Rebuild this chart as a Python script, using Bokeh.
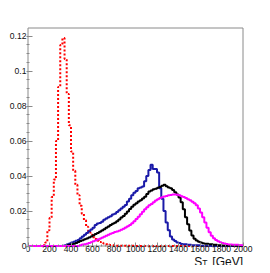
import numpy as np
from bokeh.plotting import figure
from bokeh.models import FixedTicker, CustomJSTickFormatter, Label
from bokeh.embed import file_html
from bokeh.resources import INLINE

# ---- data: 100 bins of 20 GeV from 0 to 2000 (unit-normalised S_T distributions)
bin_width = 20
n_bins = 100
edges = [bin_width * i for i in range(n_bins + 1)]

red_vals = [
    0, 0, 0, 0, 0, 0, 0, 0.0005, 0.002, 0.009,
    0.016, 0.028, 0.038, 0.060, 0.091, 0.115, 0.119, 0.107, 0.087, 0.069,
    0.054, 0.043, 0.035, 0.029, 0.023, 0.0185, 0.0147, 0.011, 0.008, 0.0065,
    0.005, 0.004, 0.003, 0.0023, 0.0018, 0.0014, 0.001, 0.0008, 0.0006, 0.0005,
    0.0003, 0.0002, 0.0002, 0.0002, 0.0002, 0.0001, 0.0001, 0.0001, 0.0001, 0.0001,
    0, 0, 0, 0, 0, 0, 0, 0, 0, 0,
    0, 0, 0, 0, 0, 0, 0, 0, 0, 0,
    0, 0, 0, 0, 0, 0, 0, 0, 0, 0,
    0, 0, 0, 0, 0, 0, 0, 0, 0, 0,
    0, 0, 0, 0, 0, 0, 0, 0, 0, 0,
]

blue_vals = [
    0, 0, 0, 0, 0, 0, 0, 0, 0, 0,
    0, 0, 0, 0, 0, 0, 0.0002, 0.0005, 0.001, 0.0015,
    0.002, 0.0025, 0.003, 0.0035, 0.0045, 0.0055, 0.0065, 0.0075, 0.0085, 0.0095,
    0.0105, 0.012, 0.0128, 0.0132, 0.0138, 0.015, 0.0157, 0.0165, 0.017, 0.018,
    0.0185, 0.0195, 0.0205, 0.0215, 0.0225, 0.0235, 0.0255, 0.027, 0.029, 0.0305,
    0.0315, 0.033, 0.0335, 0.034, 0.037, 0.040, 0.0435, 0.0465, 0.044, 0.044,
    0.042, 0.033, 0.027, 0.020, 0.0135, 0.009, 0.0055, 0.0037, 0.0028, 0.002,
    0.0017, 0.0012, 0.001, 0.001, 0.0007, 0.0007, 0.0004, 0.0004, 0.0004, 0.0004,
    0.0002, 0.0002, 0.0002, 0.0002, 0.0002, 0, 0, 0, 0, 0,
    0, 0, 0, 0, 0, 0, 0, 0, 0, 0,
]

black_vals = [
    0, 0, 0, 0, 0, 0, 0, 0, 0, 0,
    0, 0, 0, 0, 0, 0, 0, 0, 0.0004, 0.0007,
    0.001, 0.0013, 0.0017, 0.0023, 0.0028, 0.0033, 0.0038, 0.0043, 0.0049, 0.0055,
    0.0062, 0.0068, 0.0075, 0.0081, 0.0088, 0.0096, 0.0104, 0.0112, 0.012, 0.0127,
    0.0133, 0.0141, 0.0152, 0.0163, 0.0172, 0.0185, 0.0198, 0.0212, 0.0225, 0.0236,
    0.0245, 0.0255, 0.0262, 0.0272, 0.0282, 0.0298, 0.0312, 0.0318, 0.0325, 0.0328,
    0.0333, 0.0338, 0.0345, 0.035, 0.0342, 0.0335, 0.033, 0.032, 0.0308, 0.0295,
    0.0278, 0.025, 0.021, 0.0165, 0.0125, 0.0088, 0.006, 0.0042, 0.0032, 0.0025,
    0.002, 0.0016, 0.0013, 0.0013, 0.001, 0.001, 0.0007, 0.0007, 0.0005, 0.0005,
    0.0003, 0.0003, 0.0003, 0.0003, 0.0003, 0.0001, 0.0001, 0.0001, 0.0001, 0.0001,
]

magenta_vals = [
    0, 0, 0, 0, 0, 0, 0, 0, 0, 0,
    0, 0, 0, 0, 0, 0, 0, 0, 0, 0,
    0, 0, 0, 0, 0.0005, 0.0008, 0.001, 0.0013, 0.0017, 0.0022,
    0.0027, 0.0032, 0.0037, 0.0042, 0.0047, 0.0053, 0.0058, 0.0064, 0.007, 0.0075,
    0.008, 0.0083, 0.0087, 0.0093, 0.0099, 0.0106, 0.0113, 0.012, 0.013, 0.0142,
    0.0155, 0.0168, 0.0182, 0.0196, 0.021, 0.0222, 0.0233, 0.024, 0.025, 0.026,
    0.0268, 0.0274, 0.0279, 0.0283, 0.0286, 0.029, 0.0292, 0.0294, 0.0295, 0.0293,
    0.029, 0.0285, 0.028, 0.0274, 0.0268, 0.0262, 0.0253, 0.0245, 0.0233, 0.0215,
    0.0192, 0.0165, 0.0135, 0.0105, 0.0078, 0.0058, 0.0044, 0.0034, 0.0027, 0.0021,
    0.0017, 0.0014, 0.0012, 0.0009, 0.0009, 0.0007, 0.0007, 0.0007, 0.0005, 0.0005,
]

x_min, x_max = 0, 2000
y_min, y_max = 0, 0.1247
x_tick_step = 200
y_tick_step = 0.02
y_major_ticks = [0, 0.02, 0.04, 0.06, 0.08, 0.1, 0.12]
x_title_main = "S"
x_title_sub = "T"
x_title_unit = "[GeV]"

FONT = "Liberation Sans"
AXIS_GRAY = "#8a8a8a"

# ---- layout (canvas pixels). The frame is extended right and below y=0 so the
# x tick labels and the axis title live inside it; the box is drawn explicitly.
W, H = 262, 265
border_l, border_t = 26, 26
box_left_px, box_right_px = 27.5, 242.5     # canvas x of x_min / x_max
box_top_px, zero_px = 27.5, 245.5           # canvas y of y_max / y=0
x_px = (box_right_px - box_left_px) / (x_max - x_min)
y_px = (zero_px - box_top_px) / (y_max - y_min)
x_start = x_min - (box_left_px - border_l) / x_px
x_end = x_max + (W - box_right_px) / x_px
y_end = y_max + (box_top_px - border_t) / y_px
y_start = y_min - (H - zero_px) / y_px

p = figure(width=W, height=H, x_range=(x_start, x_end), y_range=(y_start, y_end),
           output_backend="svg", toolbar_location=None, title=None,
           min_border_left=border_l, min_border_right=0,
           min_border_top=border_t, min_border_bottom=0)
p.background_fill_color = "white"
p.border_fill_color = "white"
p.outline_line_color = None
p.grid.visible = False

# frame box of the histogram area
p.quad(left=[x_min], right=[x_max], bottom=[y_min], top=[y_max],
       fill_color=None, line_color=AXIS_GRAY, line_width=1)

series = [
    (red_vals, "#ff0000", "2 2"),
    (blue_vals, "#1a1aa8", "solid"),
    (black_vals, "#000000", "solid"),
    (magenta_vals, "#ff00ff", "solid"),
]
for vals, color, dash in series:
    yy = list(vals) + [vals[-1]]
    p.step(x=edges, y=yy, mode="after", line_color=color, line_width=2,
           line_dash=dash)

y_minor_ticks = [round(t + k * y_tick_step / 4, 4) for t in y_major_ticks[:-1] for k in (1, 2, 3)]
x_major_ticks = list(range(x_min, x_max + 1, x_tick_step))
x_minor_ticks = [t + k * x_tick_step // 5 for t in x_major_ticks[:-1] for k in (1, 2, 3, 4)]
p.xaxis.ticker = FixedTicker(ticks=x_major_ticks, minor_ticks=x_minor_ticks)
p.yaxis.ticker = FixedTicker(ticks=y_major_ticks, minor_ticks=y_minor_ticks)
p.yaxis.formatter = CustomJSTickFormatter(code="return String(Math.round(tick*1000)/1000);")
p.xaxis.fixed_location = 0

for ax in (p.xaxis[0], p.yaxis[0]):
    ax.axis_line_color = None
    ax.major_tick_line_color = AXIS_GRAY
    ax.minor_tick_line_color = AXIS_GRAY
    ax.major_tick_out = 0
    ax.minor_tick_out = 0
    ax.major_label_text_font = FONT
    ax.major_label_text_font_size = "8.6px"
    ax.major_label_text_color = "#111111"
p.xaxis.major_tick_in = 4
p.xaxis.minor_tick_in = 2
p.yaxis.major_tick_in = 6
p.yaxis.minor_tick_in = 3
p.yaxis.major_label_standoff = 0
p.xaxis.major_label_standoff = 0

# x-axis title "S_T [GeV]", right-aligned at the end of the axis
title_split_x = 1620
title_base_y = -(261.0 - zero_px) / y_px
sub_base_y = -(262.5 - zero_px) / y_px
p.add_layout(Label(x=x_max, y=title_base_y, text=x_title_unit, text_align="right",
                   text_baseline="alphabetic", text_font=FONT, text_font_size="12px",
                   text_color="#111111"))
p.add_layout(Label(x=title_split_x, y=title_base_y, text=x_title_main, text_align="right",
                   text_baseline="alphabetic", text_font=FONT, text_font_size="12px",
                   text_color="#111111"))
p.add_layout(Label(x=title_split_x, y=sub_base_y, text=x_title_sub, text_align="left",
                   text_baseline="alphabetic", text_font=FONT, text_font_size="8.5px",
                   text_color="#111111"))

open("out.html", "w").write(file_html(p, INLINE))
